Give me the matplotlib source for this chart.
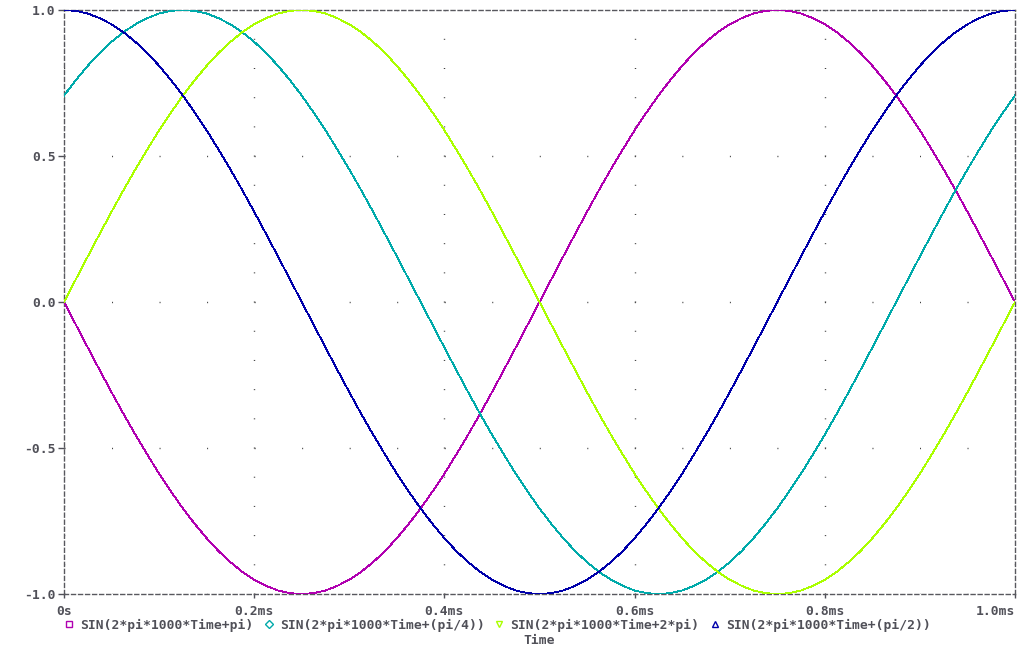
import matplotlib
matplotlib.use("Agg")
import matplotlib.pyplot as plt
from matplotlib.lines import Line2D

# Time axis (ms), one sample every 0.0125 ms
time_ms = [i * 0.0125 for i in range(81)]

sin_2pi = [0.000, 0.078, 0.156, 0.233, 0.309, 0.383, 0.454, 0.522, 0.588, 0.649,
           0.707, 0.760, 0.809, 0.853, 0.891, 0.924, 0.951, 0.972, 0.988, 0.997,
           1.000, 0.997, 0.988, 0.972, 0.951, 0.924, 0.891, 0.853, 0.809, 0.760,
           0.707, 0.649, 0.588, 0.522, 0.454, 0.383, 0.309, 0.233, 0.156, 0.078,
           0.000, -0.078, -0.156, -0.233, -0.309, -0.383, -0.454, -0.522, -0.588, -0.649,
           -0.707, -0.760, -0.809, -0.853, -0.891, -0.924, -0.951, -0.972, -0.988, -0.997,
           -1.000, -0.997, -0.988, -0.972, -0.951, -0.924, -0.891, -0.853, -0.809, -0.760,
           -0.707, -0.649, -0.588, -0.522, -0.454, -0.383, -0.309, -0.233, -0.156, -0.078,
           0.000]

sin_pi = [0.000, -0.078, -0.156, -0.233, -0.309, -0.383, -0.454, -0.522, -0.588, -0.649,
          -0.707, -0.760, -0.809, -0.853, -0.891, -0.924, -0.951, -0.972, -0.988, -0.997,
          -1.000, -0.997, -0.988, -0.972, -0.951, -0.924, -0.891, -0.853, -0.809, -0.760,
          -0.707, -0.649, -0.588, -0.522, -0.454, -0.383, -0.309, -0.233, -0.156, -0.078,
          0.000, 0.078, 0.156, 0.233, 0.309, 0.383, 0.454, 0.522, 0.588, 0.649,
          0.707, 0.760, 0.809, 0.853, 0.891, 0.924, 0.951, 0.972, 0.988, 0.997,
          1.000, 0.997, 0.988, 0.972, 0.951, 0.924, 0.891, 0.853, 0.809, 0.760,
          0.707, 0.649, 0.588, 0.522, 0.454, 0.383, 0.309, 0.233, 0.156, 0.078,
          0.000]

sin_pi4 = [0.707, 0.760, 0.809, 0.853, 0.891, 0.924, 0.951, 0.972, 0.988, 0.997,
           1.000, 0.997, 0.988, 0.972, 0.951, 0.924, 0.891, 0.853, 0.809, 0.760,
           0.707, 0.649, 0.588, 0.522, 0.454, 0.383, 0.309, 0.233, 0.156, 0.078,
           0.000, -0.078, -0.156, -0.233, -0.309, -0.383, -0.454, -0.522, -0.588, -0.649,
           -0.707, -0.760, -0.809, -0.853, -0.891, -0.924, -0.951, -0.972, -0.988, -0.997,
           -1.000, -0.997, -0.988, -0.972, -0.951, -0.924, -0.891, -0.853, -0.809, -0.760,
           -0.707, -0.649, -0.588, -0.522, -0.454, -0.383, -0.309, -0.233, -0.156, -0.078,
           0.000, 0.078, 0.156, 0.233, 0.309, 0.383, 0.454, 0.522, 0.588, 0.649,
           0.707]

sin_pi2 = [1.000, 0.997, 0.988, 0.972, 0.951, 0.924, 0.891, 0.853, 0.809, 0.760,
           0.707, 0.649, 0.588, 0.522, 0.454, 0.383, 0.309, 0.233, 0.156, 0.078,
           0.000, -0.078, -0.156, -0.233, -0.309, -0.383, -0.454, -0.522, -0.588, -0.649,
           -0.707, -0.760, -0.809, -0.853, -0.891, -0.924, -0.951, -0.972, -0.988, -0.997,
           -1.000, -0.997, -0.988, -0.972, -0.951, -0.924, -0.891, -0.853, -0.809, -0.760,
           -0.707, -0.649, -0.588, -0.522, -0.454, -0.383, -0.309, -0.233, -0.156, -0.078,
           0.000, 0.078, 0.156, 0.233, 0.309, 0.383, 0.454, 0.522, 0.588, 0.649,
           0.707, 0.760, 0.809, 0.853, 0.891, 0.924, 0.951, 0.972, 0.988, 0.997,
           1.000]

labels = ["SIN(2*pi*1000*Time+pi)", "SIN(2*pi*1000*Time+(pi/4))",
          "SIN(2*pi*1000*Time+2*pi)", "SIN(2*pi*1000*Time+(pi/2))"]
colors = ["#b000b0", "#00aaaa", "#aaff00", "#0000aa"]
markers = ["s", "D", "v", "^"]

x_ticks = [0.0, 0.2, 0.4, 0.6, 0.8, 1.0]
x_ticklabels = ["0s", "0.2ms", "0.4ms", "0.6ms", "0.8ms", "1.0ms"]
y_ticks = [-1.0, -0.5, 0.0, 0.5, 1.0]
y_ticklabels = ["-1.0", "-0.5", "0.0", "0.5", "1.0"]

plt.rcParams['lines.scale_dashes'] = False
plt.rcParams['font.family'] = ['DejaVu Sans Mono']
gray = "#505058"
fsize = 9.4

fig = plt.figure(figsize=(10.2, 6.47), dpi=100)
ax = fig.add_axes([64 / 1020, 1 - 594 / 647, (1015 - 64) / 1020, (594 - 10) / 647])

series = [sin_pi, sin_pi4, sin_2pi, sin_pi2]
for vals, c in zip(series, colors):
    ax.plot(time_ms, vals, color=c, lw=0.6, zorder=3, antialiased=False)

ax.set_xlim(0, 1.0)
ax.set_ylim(-1.0, 1.0)

# dotted grid: one dot every 0.1 (vertical) / 0.05 ms (horizontal)
ax.grid(True, axis='x', color="#404040", lw=1.0, linestyle=(0, (0.72, 20.3)))
ax.grid(True, axis='y', color="#404040", lw=1.0, linestyle=(0, (0.72, 33.5)))

for sp in ax.spines.values():
    sp.set_linestyle((0, (2.9, 2.16)))
    sp.set_color("#58585e")
    sp.set_linewidth(1.0)

ax.set_xticks(x_ticks)
ax.set_xticklabels(x_ticklabels)
ax.set_yticks(y_ticks)
ax.set_yticklabels(y_ticklabels)
ax.tick_params(axis='x', direction='out', length=3, width=1, color=gray, pad=5,
               labelsize=fsize, labelcolor=gray)
ax.tick_params(axis='y', direction='out', length=4.5, width=1, color=gray, pad=1.5,
               labelsize=fsize, labelcolor=gray)
for t in ax.get_xticklabels() + ax.get_yticklabels():
    t.set_fontweight('bold')
ax.get_xticklabels()[-1].set_ha('right')

ax.set_xlabel("Time", fontsize=fsize, color=gray, fontweight='bold', va='center')
ax.xaxis.set_label_coords(0.5, -46 / 584)

handles = [Line2D([], [], linestyle='none', marker=m, markersize=5 if m != 'D' else 4,
                  markerfacecolor='none', markeredgecolor=c, markeredgewidth=1.0)
           for m, c in zip(markers, colors)]
leg = fig.legend(handles, labels, loc='center left', bbox_to_anchor=(64 / 1020, 1 - 625 / 647),
                 ncol=4, frameon=False, borderpad=0, borderaxespad=0,
                 handlelength=0.8, handletextpad=0.45, columnspacing=0.75,
                 prop={'size': fsize, 'weight': 'bold'})
for t in leg.get_texts():
    t.set_color(gray)

fig.savefig("out.png", dpi=100)
